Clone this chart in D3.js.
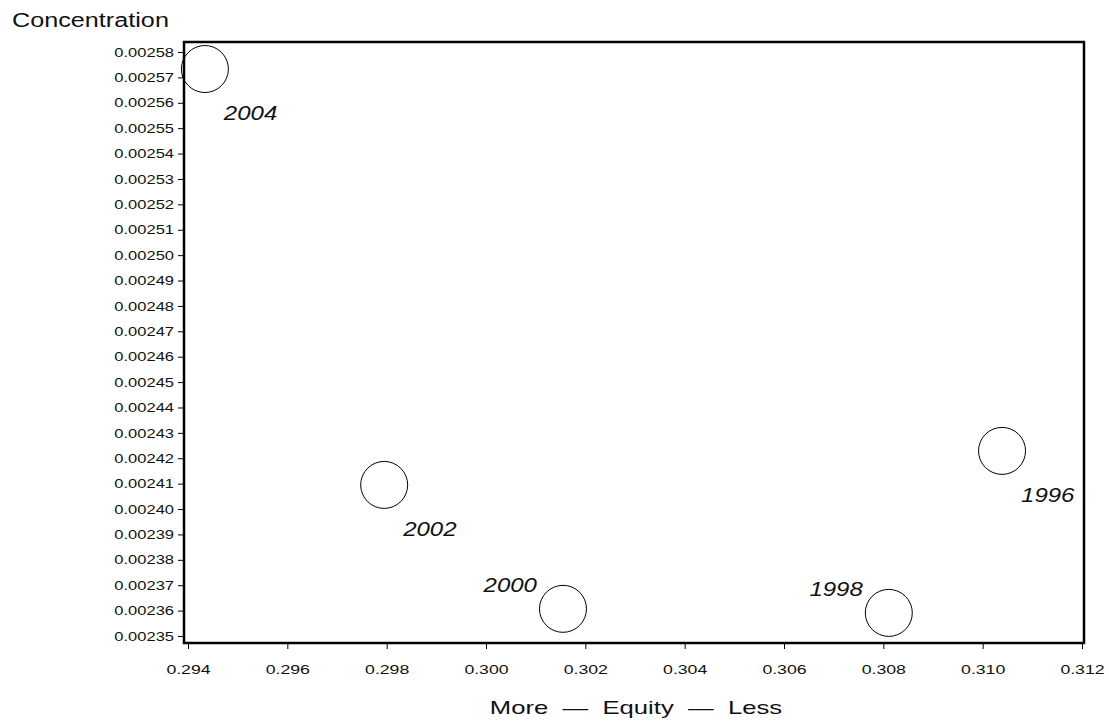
<!DOCTYPE html>
<html>
<head>
<meta charset="utf-8">
<script src="https://cdn.jsdelivr.net/npm/d3@7"></script>
<style>
  html, body { margin: 0; padding: 0; background: #fff; }
  svg { display: block; }
  text { font-family: "Liberation Sans", Arial, Helvetica, sans-serif; fill: #111; }
</style>
</head>
<body>
<svg id="chart" width="1109" height="728"></svg>
<script>
// Survey years and their equity / concentration scores
const years = ["1996", "1998", "2000", "2002", "2004"];
const equity = [0.31039, 0.30811, 0.30155, 0.29795, 0.29434];
const concentration = [0.0024229, 0.0023591, 0.0023607, 0.0024095, 0.0025733];
// Where each year label sits relative to its bubble
const labelSide = ["below", "above", "above", "below", "below"];

// Axis tick values
const xTicks = [0.294, 0.296, 0.298, 0.300, 0.302, 0.304, 0.306, 0.308, 0.310, 0.312];
const yTicks = d3.range(235, 259).map(v => v / 100000);

const yTitle = "Concentration";
const xTitle = "More\u00a0\u00a0\u2014\u00a0\u00a0Equity\u00a0\u00a0\u2014\u00a0\u00a0Less";

const svg = d3.select("#chart");

const frame = { left: 184, right: 1084, top: 42, bottom: 643 };

const x = d3.scaleLinear().domain([0.294, 0.312]).range([188, 1082]);
const y = d3.scaleLinear().domain([0.00235, 0.00258]).range([636, 52]);

// Widen glyphs uniformly so the lettering keeps its broad look
function stretch(sel, k) {
  sel.each(function () {
    const w = this.getComputedTextLength();
    d3.select(this).attr("textLength", w * k).attr("lengthAdjust", "spacingAndGlyphs");
  });
}

// Y axis
const yAxis = svg.append("g")
  .attr("transform", `translate(${frame.left},0)`)
  .call(d3.axisLeft(y).tickValues(yTicks).tickSize(6).tickSizeOuter(0).tickPadding(4)
    .tickFormat(d3.format(".5f")));
yAxis.select(".domain").remove();
yAxis.selectAll(".tick line").attr("stroke", "#000").attr("stroke-width", 1);
yAxis.selectAll(".tick text")
  .attr("font-size", 13)
  .attr("fill", "#111")
  .style("font-family", '"Liberation Sans", Arial, sans-serif')
  .call(stretch, 1.27);

// X axis
const xAxis = svg.append("g")
  .attr("transform", `translate(0,${frame.bottom})`)
  .call(d3.axisBottom(x).tickValues(xTicks).tickSize(6).tickSizeOuter(0).tickPadding(16)
    .tickFormat(d3.format(".3f")));
xAxis.select(".domain").remove();
xAxis.selectAll(".tick line").attr("stroke", "#000").attr("stroke-width", 1);
xAxis.selectAll(".tick text")
  .attr("font-size", 13)
  .attr("fill", "#111")
  .style("font-family", '"Liberation Sans", Arial, sans-serif')
  .call(stretch, 1.36);

// Plot frame
svg.append("rect")
  .attr("x", frame.left)
  .attr("y", frame.top)
  .attr("width", frame.right - frame.left)
  .attr("height", frame.bottom - frame.top)
  .attr("fill", "none")
  .attr("stroke", "#000")
  .attr("stroke-width", 2.5);

// Bubbles
const pts = years.map((yr, i) => ({ yr, ex: equity[i], c: concentration[i], side: labelSide[i] }));

svg.append("g").selectAll("circle")
  .data(pts)
  .join("circle")
  .attr("cx", d => x(d.ex))
  .attr("cy", d => y(d.c))
  .attr("r", 23.5)
  .attr("fill", "none")
  .attr("stroke", "#000")
  .attr("stroke-width", 1);

// Year labels
svg.append("g").selectAll("text")
  .data(pts)
  .join("text")
  .attr("x", d => x(d.ex) + (d.side === "below" ? 19 : -26))
  .attr("y", d => y(d.c) + (d.side === "below" ? 51 : -17))
  .attr("text-anchor", d => d.side === "below" ? "start" : "end")
  .attr("font-size", 20)
  .attr("font-style", "italic")
  .text(d => d.yr)
  .call(stretch, 1.2);

// Axis titles
svg.append("text")
  .attr("x", 12)
  .attr("y", 27)
  .attr("font-size", 20)
  .text(yTitle)
  .call(stretch, 1.26);

svg.append("text")
  .attr("x", 636)
  .attr("y", 714)
  .attr("text-anchor", "middle")
  .attr("font-size", 19)
  .text(xTitle)
  .call(stretch, 1.35);
</script>
</body>
</html>
